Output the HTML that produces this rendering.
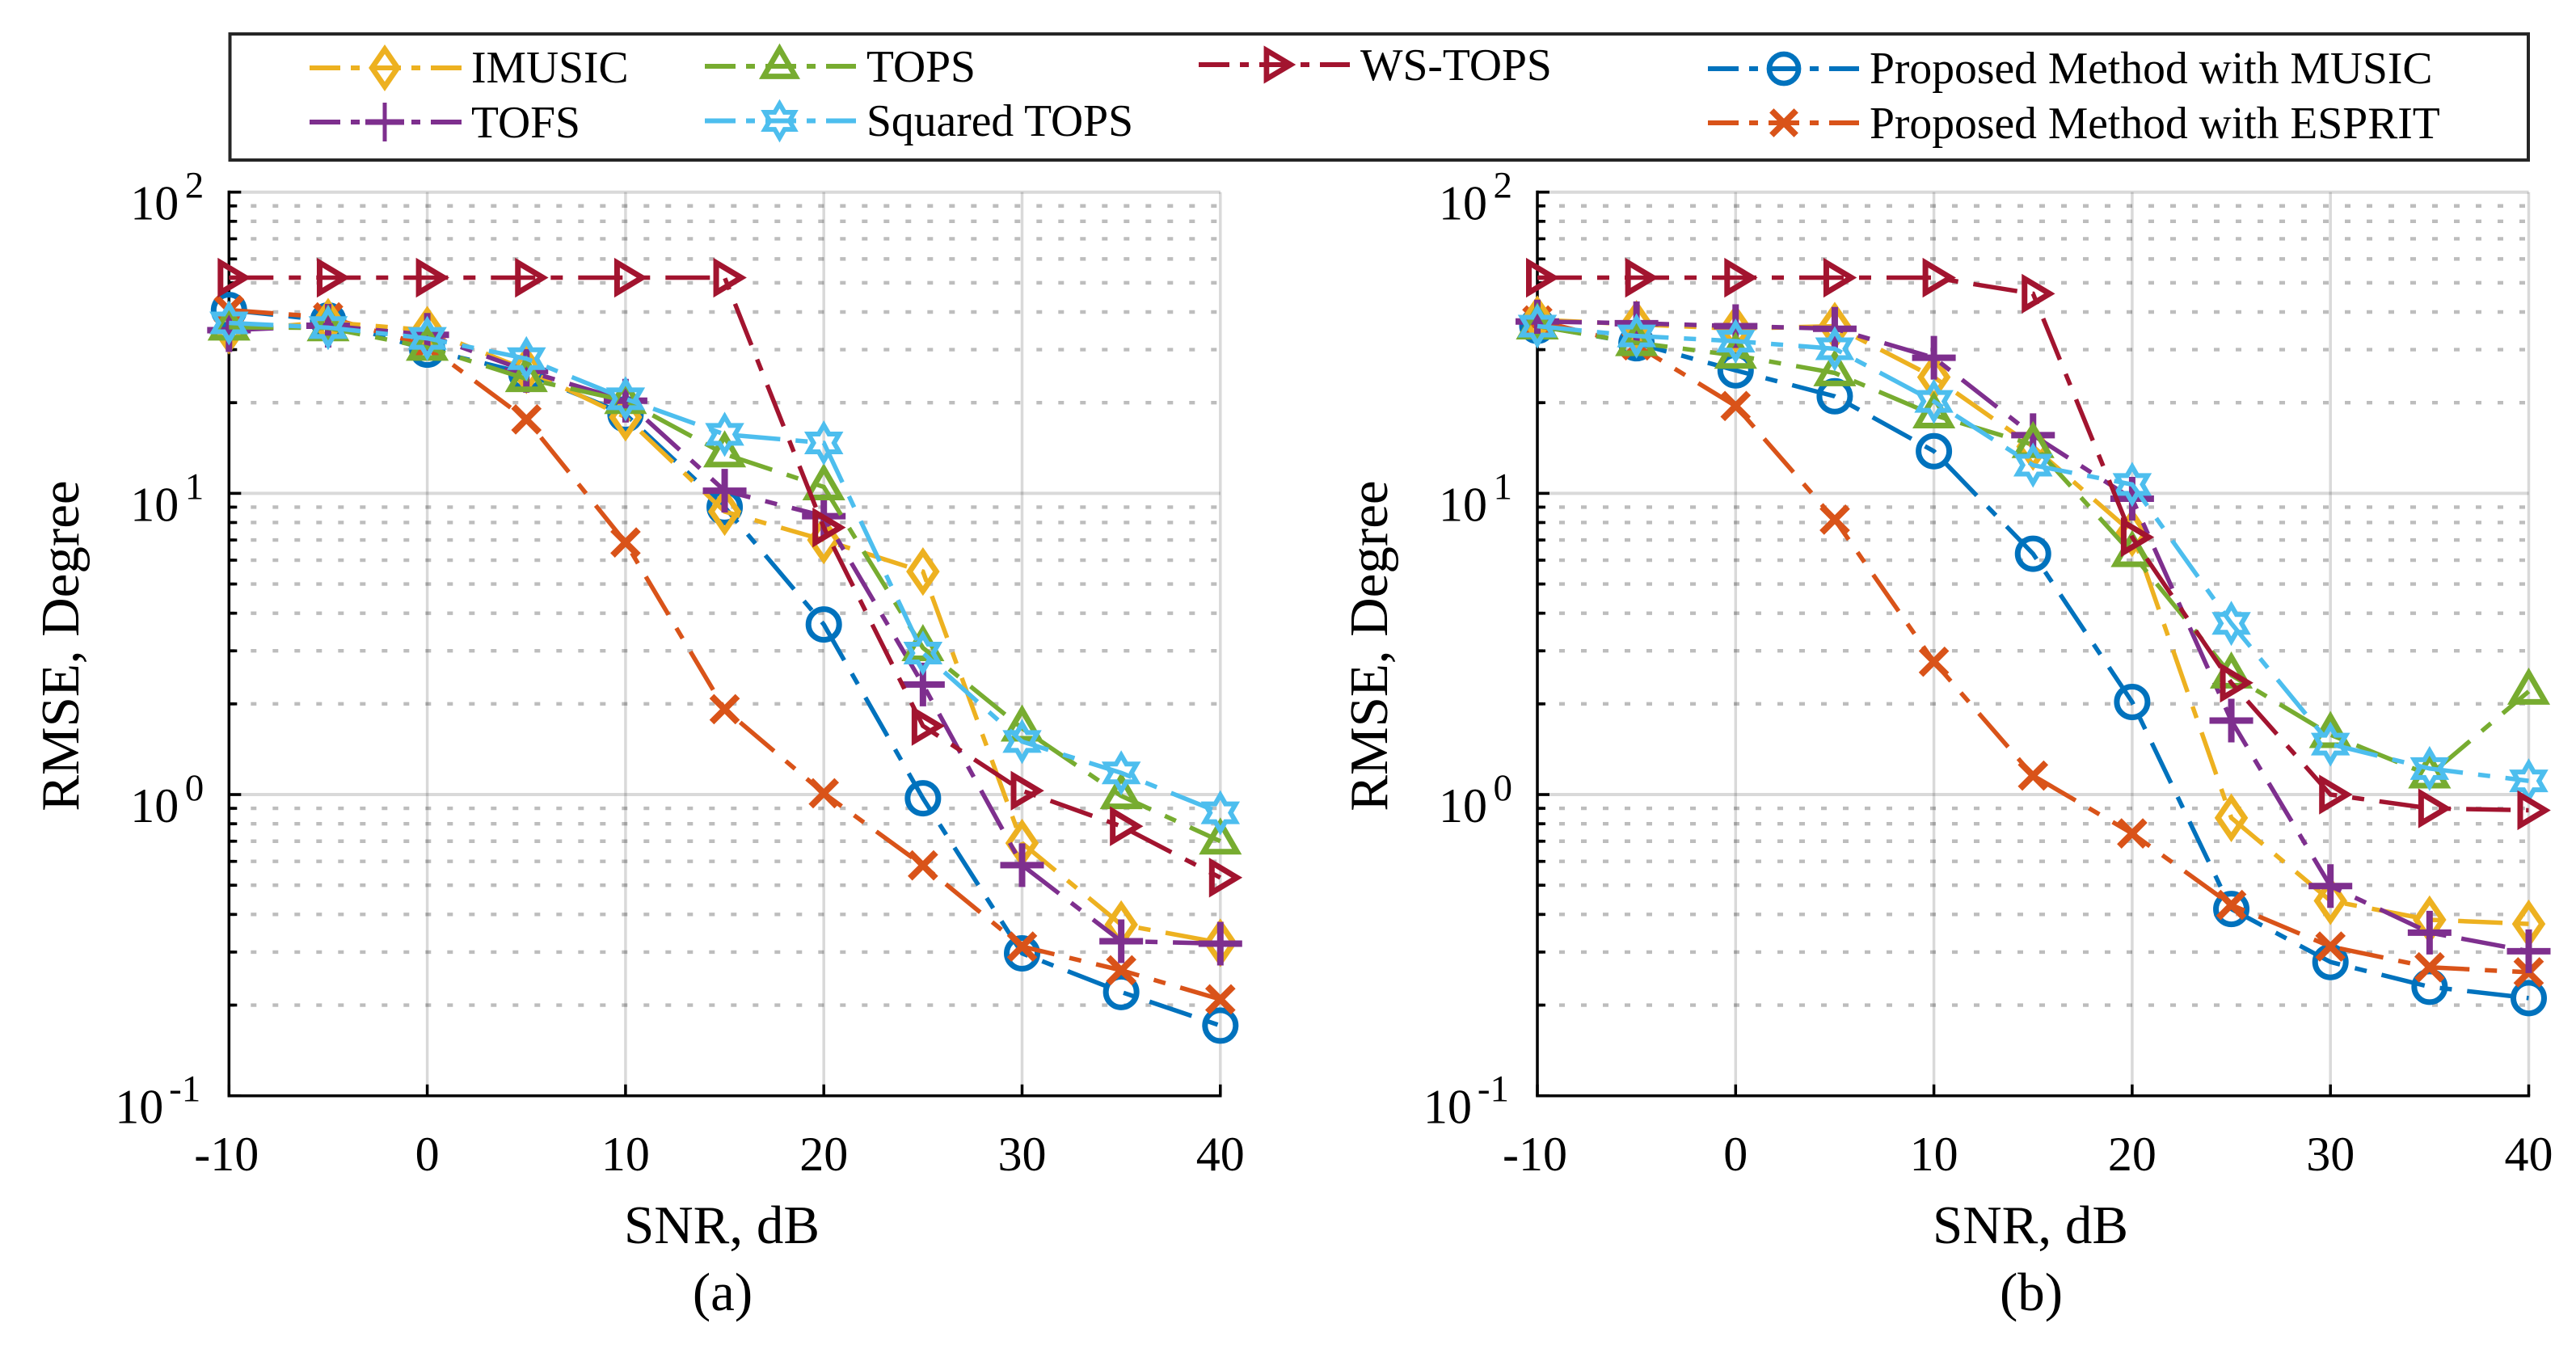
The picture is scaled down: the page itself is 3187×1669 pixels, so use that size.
<!DOCTYPE html>
<html lang="en">
<head>
<meta charset="utf-8">
<title>RMSE versus SNR comparison</title>
<style>
html,body{margin:0;padding:0;background:#fff;width:3187px;height:1669px;overflow:hidden}
svg{display:block}
text{font-family:"Liberation Serif","Times New Roman",serif;fill:#000}
.leg{font-size:55.6px}
.title{font-size:67px}
</style>
</head>
<body>
<svg id="chart" xmlns="http://www.w3.org/2000/svg" width="3187" height="1669" viewBox="0 0 3187 1669">
  <rect x="0" y="0" width="3187" height="1669" fill="#fff"/>
  <g id="panel-a"></g>
  <g id="panel-b"></g>

  <text class="title" transform="translate(97,799) rotate(-90)" text-anchor="middle">RMSE, Degree</text>
  <text class="title" transform="translate(1716,799) rotate(-90)" text-anchor="middle">RMSE, Degree</text>
  <text class="title" x="893" y="1538" text-anchor="middle">SNR, dB</text>
  <text class="title" x="2512" y="1538" text-anchor="middle">SNR, dB</text>
  <text class="title" x="894" y="1621" text-anchor="middle">(a)</text>
  <text class="title" x="2513" y="1621" text-anchor="middle">(b)</text>

  <g>
    <rect x="284.5" y="42" width="2843.5" height="156" fill="#fff" stroke="#262626" stroke-width="4"/>

    <g fill="none" stroke="#EDB120">
      <line x1="383" y1="84" x2="571" y2="84" stroke-width="6" stroke-dasharray="38 13 11 13"/>
      <path transform="translate(476,84) scale(.96)" stroke-width="7" d="M0,-24L16.5,0L0,24L-16.5,0Z"/>
      <text class="leg" x="583" y="102" stroke="none">IMUSIC</text>
    </g>
    <g fill="none" stroke="#7E2F8E">
      <line x1="383" y1="151" x2="571" y2="151" stroke-width="6" stroke-dasharray="38 13 11 13"/>
      <path transform="translate(476,151)" stroke-width="5" d="M0,-24V24"/>
      <path transform="translate(476,151)" stroke-width="7" d="M-24,0H24"/>
      <text class="leg" x="583" y="170" stroke="none">TOFS</text>
    </g>
    <g fill="none" stroke="#77AC30">
      <line x1="872" y1="82" x2="1059" y2="82" stroke-width="6" stroke-dasharray="38 13 11 13"/>
      <path transform="translate(964.5,82) scale(.96)" stroke-width="7" d="M0,-22.5L20.5,13L-20.5,13Z"/>
      <text class="leg" x="1072" y="101" stroke="none">TOPS</text>
    </g>
    <g fill="none" stroke="#4DBEEE">
      <line x1="872" y1="149.5" x2="1059" y2="149.5" stroke-width="6" stroke-dasharray="38 13 11 13"/>
      <path transform="translate(964.5,149.5) scale(.96)" stroke-width="6" d="M0,-22L6.35,-11L19.05,-11L12.7,0L19.05,11L6.35,11L0,22L-6.35,11L-19.05,11L-12.7,0L-19.05,-11L-6.35,-11Z"/>
      <text class="leg" x="1072" y="168" stroke="none">Squared TOPS</text>
    </g>
    <g fill="none" stroke="#A2142F">
      <line x1="1483" y1="80" x2="1670" y2="80" stroke-width="6" stroke-dasharray="38 13 11 13"/>
      <path transform="translate(1577,80) scale(.96)" stroke-width="7" d="M20.5,0L-10.5,18.5L-10.5,-18.5Z"/>
      <text class="leg" x="1683" y="99" stroke="none">WS-TOPS</text>
    </g>
    <g fill="none" stroke="#0072BD">
      <line x1="2113" y1="85" x2="2300" y2="85" stroke-width="6" stroke-dasharray="38 13 11 13"/>
      <path transform="translate(2207,85) scale(.95)" stroke-width="7" d="M19,0A19,19 0 1 1 -19,0A19,19 0 1 1 19,0Z"/>
      <text class="leg" x="2313" y="103" stroke="none">Proposed Method with MUSIC</text>
    </g>
    <g fill="none" stroke="#D95319">
      <line x1="2113" y1="152" x2="2300" y2="152" stroke-width="6" stroke-dasharray="38 13 11 13"/>
      <path transform="translate(2207,152) scale(.95)" stroke-width="8" d="M-16,-16L16,16M-16,16L16,-16"/>
      <text class="leg" x="2313" y="171" stroke="none">Proposed Method with ESPRIT</text>
    </g>
  </g>
</svg>
<script>
// ---- chart data ----
const snr = [-10, -5, 0, 5, 10, 15, 20, 25, 30, 35, 40];
const xTicks = [-10, 0, 10, 20, 30, 40];
const yDecades = [2, 1, 0, -1];
const minorFactors = [2, 3, 4, 5, 6, 7, 8, 9];

const musicA  = [40.6, 37.5, 30, 25, 18.3, 9.0, 3.67, 0.972, 0.297, 0.221, 0.171];
const espritA = [40.6, 38.4, 30.9, 17.6, 6.87, 1.92, 1.01, 0.582, 0.313, 0.261, 0.209];
const imusicA = [34.8, 37, 34.8, 25.7, 17.9, 8.7, 7.0, 5.5, 0.69, 0.37, 0.322];
const tofsA   = [34.8, 36, 33.6, 25.5, 20.3, 10.2, 8.4, 2.32, 0.583, 0.326, 0.32];
const topsA   = [35.6, 35.4, 30.5, 24, 20.3, 13.5, 10.5, 3.07, 1.66, 0.99, 0.70];
const sqTopsA = [36.8, 35.5, 32.7, 28, 20.6, 15.7, 14.7, 2.95, 1.5, 1.18, 0.87];
const wsTopsA = [52, 52, 52, 52, 52, 52, 7.7, 1.69, 1.03, 0.785, 0.53];

const musicB  = [36, 31.5, 25.6, 21, 13.8, 6.3, 2.03, 0.417, 0.278, 0.23, 0.211];
const espritB = [37.5, 31, 19.5, 8.18, 2.76, 1.156, 0.743, 0.43, 0.313, 0.267, 0.257];
const imusicB = [37.7, 36.4, 35.2, 35.9, 24.3, 14.3, 7.4, 0.837, 0.444, 0.384, 0.372];
const tofsB   = [37.2, 36.7, 35.9, 35.2, 28.2, 15.6, 9.6, 1.76, 0.497, 0.348, 0.302];
const topsB   = [35.9, 31.6, 28.7, 25.1, 18.2, 14.5, 6.3, 2.49, 1.58, 1.16, 2.2];
const sqTopsB = [35.9, 33.3, 32, 30.2, 20.2, 12.4, 10.7, 3.7, 1.47, 1.22, 1.11];
const wsTopsB = [52, 52, 52, 52, 52, 46, 7.15, 2.35, 1.0, 0.90, 0.887];

const seriesNames = ['proposed-music', 'proposed-esprit', 'imusic', 'tofs', 'tops', 'squared-tops', 'ws-tops'];
const seriesA = [musicA, espritA, imusicA, tofsA, topsA, sqTopsA, wsTopsA];
const seriesB = [musicB, espritB, imusicB, tofsB, topsB, sqTopsB, wsTopsB];

// ---- styling ----
const colors = ['#0072BD', '#D95319', '#EDB120', '#7E2F8E', '#77AC30', '#4DBEEE', '#A2142F'];
const markerPaths = [
  'M19,0A19,19 0 1 1 -19,0A19,19 0 1 1 19,0Z',
  'M-16,-16L16,16M-16,16L16,-16',
  'M0,-24L16.5,0L0,24L-16.5,0Z',
  'M-27,0H27M0,-27V27',
  'M0,-22.5L20.5,13L-20.5,13Z',
  'M0,-22L6.35,-11L19.05,-11L12.7,0L19.05,11L6.35,11L0,22L-6.35,11L-19.05,11L-12.7,0L-19.05,-11L-6.35,-11Z',
  'M20.5,0L-10.5,18.5L-10.5,-18.5Z'
];
const markerWidths = [7, 8, 7, 8, 7, 6, 7];

const NS = 'http://www.w3.org/2000/svg';
const plotTop = 237.7;
const plotBottom = 1355.7;

function make(tag, attrs, parent) {
  const node = document.createElementNS(NS, tag);
  for (const k in attrs) node.setAttribute(k, attrs[k]);
  parent.appendChild(node);
  return node;
}

function yPos(v) {
  const lo = -1, hi = 2;
  return plotBottom - (Math.log10(v) - lo) / (hi - lo) * (plotBottom - plotTop);
}

function drawPanel(root, left, right, series, panel) {
  const xPos = function (v) { return left + (v + 10) / 50 * (right - left); };

  // vertical major grid
  xTicks.forEach(function (t) {
    const g = make('line', {x1: xPos(t), x2: xPos(t), y1: plotTop, y2: plotBottom, stroke: '#000', 'stroke-opacity': 0.15, 'stroke-width': 3.5}, root);
    
    
  });

  // horizontal grid
  yDecades.forEach(function (d) {
    if (d > -1) {
      const g = make('line', {x1: left, x2: right, y1: yPos(Math.pow(10, d)), y2: yPos(Math.pow(10, d)), stroke: '#000', 'stroke-opacity': 0.15, 'stroke-width': 4}, root);
      
      
    }
    if (d < 2) {
      minorFactors.forEach(function (f) {
        const y = yPos(f * Math.pow(10, d));
        const g = make('line', {x1: left, x2: right, y1: y, y2: y, stroke: '#000', 'stroke-opacity': 0.26, 'stroke-width': 4.4, 'stroke-dasharray': '7 20'}, root);
        
        
        const tick = make('line', {x1: left, x2: left + 10, y1: y, y2: y, stroke: '#000', 'stroke-width': 3.6}, root);
        
        
      });
    }
  });

  // axes
  const yAxis = make('line', {x1: left, x2: left, y1: plotTop - 2, y2: plotBottom + 1.7, stroke: '#000', 'stroke-width': 3.5}, root);
  
  
  const xAxis = make('line', {x1: left - 1.7, x2: right + 1.7, y1: plotBottom, y2: plotBottom, stroke: '#000', 'stroke-width': 3.5}, root);
  
  

  // x ticks and labels
  xTicks.forEach(function (t) {
    const tick = make('line', {x1: xPos(t), x2: xPos(t), y1: plotBottom, y2: plotBottom - 14, stroke: '#000', 'stroke-width': 3.5}, root);
    
    
    const label = make('text', {x: xPos(t) - (t < 0 ? 3 : 0), y: 1448, 'text-anchor': 'middle', 'font-size': 60}, root);
    label.textContent = String(t);
    
    
  });

  // y ticks and labels
  yDecades.forEach(function (d) {
    const y = yPos(Math.pow(10, d));
    const tick = make('line', {x1: left, x2: left + 15, y1: y, y2: y, stroke: '#000', 'stroke-width': 3.6}, root);
    
    
    const base = make('text', {x: left - (d < 0 ? 81 : 62), y: y + 34, 'text-anchor': 'end', 'font-size': 60}, root);
    base.textContent = '10';
    
    
    const exp = make('text', {x: left - (d < 0 ? 35 : 31), y: y + 7, 'text-anchor': 'end', 'font-size': 47}, root);
    exp.textContent = String(d);
    
    
  });

  // series
  series.forEach(function (values, i) {
    const group = make('g', {fill: 'none', stroke: colors[i]}, root);
    
    
    const d = values.map(function (v, j) { return (j ? 'L' : 'M') + xPos(snr[j]).toFixed(2) + ',' + yPos(v).toFixed(2); }).join('');
    const line = make('path', {d: d, 'stroke-width': 5.5, 'stroke-dasharray': '55 19 15 19', 'stroke-linejoin': 'miter'}, group);
    
    
    values.forEach(function (v, j) {
      const m = make('path', {d: markerPaths[i], transform: 'translate(' + xPos(snr[j]).toFixed(2) + ',' + yPos(v).toFixed(2) + ')', 'stroke-width': markerWidths[i], 'stroke-miterlimit': 10}, group);
      
      
    });
  });
}

drawPanel(document.getElementById('panel-a'), 283.3, 1509.8, seriesA, 'a');
drawPanel(document.getElementById('panel-b'), 1902, 3128.5, seriesB, 'b');
</script>
</body>
</html>
